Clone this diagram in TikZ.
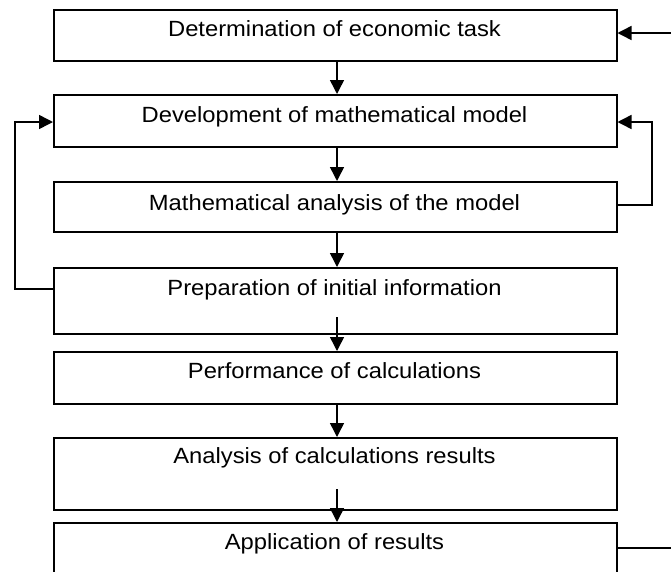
\documentclass[tikz,border=0pt]{standalone}
\usepackage{fontspec}
\setmainfont{Liberation Sans}
\usetikzlibrary{arrows.meta}
\begin{document}
\begin{tikzpicture}[x=1pt,y=-1pt,
  box/.style={draw, line width=1.5pt, rectangle, minimum width=563pt, inner sep=0pt, anchor=north west},
  lbl/.style={font=\fontsize{22}{26}\selectfont, inner sep=0pt, anchor=base, xscale=1.08},
  arr/.style={line width=1.5pt, -{Triangle[length=14pt,width=14pt]}},
  ln/.style={line width=1.5pt}]
\useasboundingbox (0,0) rectangle (671,571);
\node[box, minimum height=51pt] (b1) at (53,9) {};
\node[box, minimum height=52pt] (b2) at (53,94) {};
\node[box, minimum height=50pt] (b3) at (53,181) {};
\node[box, minimum height=66pt] (b4) at (53,267) {};
\node[box, minimum height=52pt] (b5) at (53,351) {};
\node[box, minimum height=72pt] (b6) at (53,437) {};
\node[box, minimum height=70pt] (b7) at (53,522) {};
\node[lbl] (t1) at (334.5,36) {Determination of economic task};
\node[lbl] (t2) at (334.5,122) {Development of mathematical model};
\node[lbl] (t3) at (334.5,210) {Mathematical analysis of the model};
\node[lbl] (t4) at (334.5,295) {Preparation of initial information};
\node[lbl] (t5) at (334.5,378) {Performance of calculations};
\node[lbl] (t6) at (334.5,463) {Analysis of calculations results};
\node[lbl] (t7) at (334.5,549) {Application of results};
% vertical arrows
\draw[arr] (b1.south -| 337,0) -- (b2.north -| 337,0);
\draw[arr] (b2.south -| 337,0) -- (b3.north -| 337,0);
\draw[arr] (b3.south -| 337,0) -- (b4.north -| 337,0);
\coordinate (s4) at (337,317);
\draw[arr] (s4) -- (b5.north -| s4);
\draw[arr] (b5.south -| 337,0) -- (b6.north -| 337,0);
\coordinate (s6) at (337,489);
\draw[arr] (s6) -- (b7.north -| s6);
% right loop
\coordinate (r3) at (616,205);
\coordinate (r2) at (616,122);
\draw[arr] (b3.east |- r3) -| (652,122) -- (b2.east |- r2);
% left loop
\coordinate (l4) at (53,289);
\draw[arr] (b4.west |- l4) -| (15,122) -- (b2.west |- r2);
% top right incoming
\coordinate (inR) at (671,33);
\draw[arr] (inR) -- (b1.east |- inR);
% bottom right outgoing
\coordinate (outR) at (671,548);
\draw[ln] (b7.east |- outR) -- (outR);
\end{tikzpicture}
\end{document}
